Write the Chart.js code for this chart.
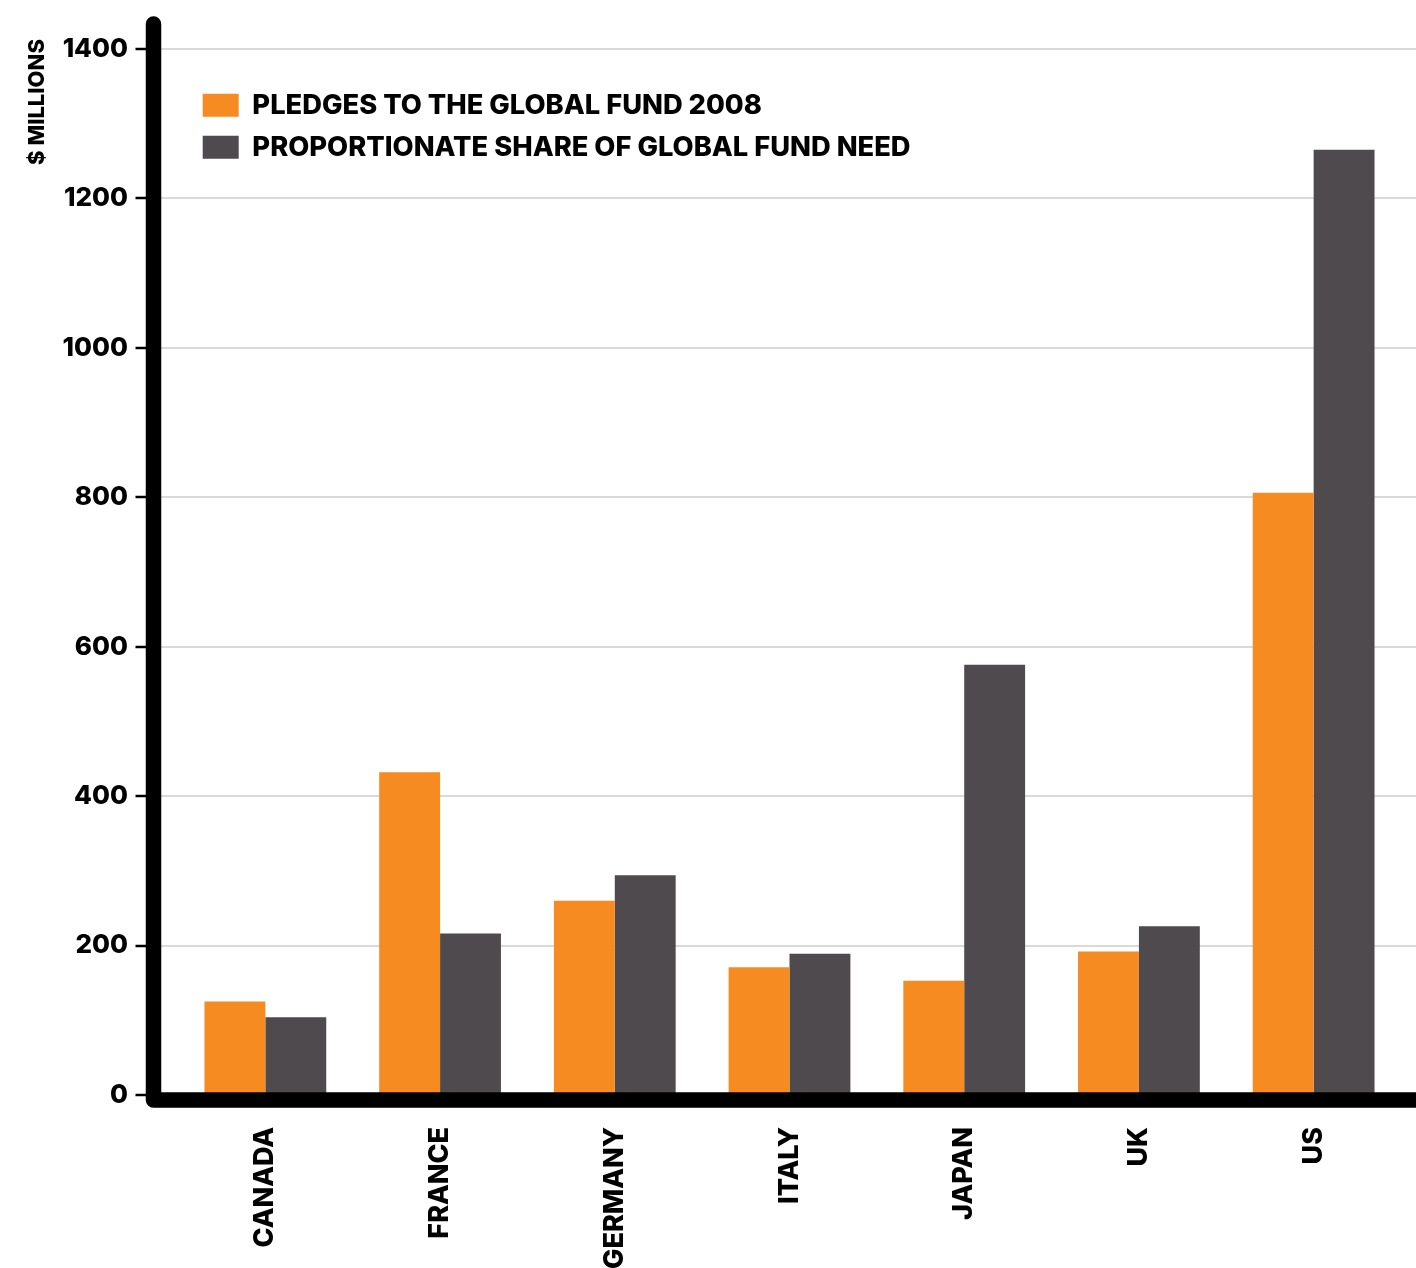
<!DOCTYPE html>
<html>
<head>
<meta charset="utf-8">
<title>Global Fund pledges</title>
<script src="https://cdn.jsdelivr.net/npm/chart.js@4.4.1/dist/chart.umd.min.js"></script>
<style>
  html, body { margin: 0; padding: 0; background: #fff; }
  canvas { display: block; }
</style>
</head>
<body>
<canvas id="fundchart" width="1416" height="1268"></canvas>
<script>
// data
const countries = ['CANADA', 'FRANCE', 'GERMANY', 'ITALY', 'JAPAN', 'UK', 'US'];
const pledges = [125, 432, 260, 171, 153, 192, 806];
const fairShare = [104, 216, 294, 189, 576, 226, 1265];
const yMin = 0;
const yMax = 1400;
const yStep = 200;

const FONT = "Inter, 'Liberation Sans', sans-serif";
const ORANGE = '#F68B21';
const DARK = '#4E4A4D';

// gridlines, tick marks, heavy axis lines and y title
const axesFrame = {
  id: 'axesFrame',
  afterLayout(chart) {
    // legend sits inside the plot, just under the top gridline
    const lg = chart.legend;
    lg.left = chart.chartArea.left + 10;
    lg.right = lg.left + lg.width;
    lg.top = chart.chartArea.top + 28;
    lg.bottom = chart.chartArea.bottom;
  },
  beforeDatasetsDraw(chart) {
    const {ctx, chartArea, scales: {y}} = chart;
    const axisX = chartArea.left - 24.5;
    ctx.save();
    ctx.strokeStyle = '#d9d9d9';
    ctx.lineWidth = 2;
    y.ticks.forEach(t => {
      if (t.value === 0) return;
      const py = Math.round(y.getPixelForValue(t.value));
      ctx.beginPath();
      ctx.moveTo(axisX + 7, py);
      ctx.lineTo(chart.width, py);
      ctx.stroke();
    });
    ctx.restore();
  },
  afterDatasetsDraw(chart) {
    const {ctx, chartArea, scales: {y}} = chart;
    const axisX = chartArea.left - 24.5;
    const baseY = y.getPixelForValue(0) + 5;
    ctx.save();
    // small tick marks
    ctx.strokeStyle = '#000';
    ctx.lineWidth = 2.5;
    y.ticks.forEach(t => {
      const py = Math.round(y.getPixelForValue(t.value));
      ctx.beginPath();
      ctx.moveTo(axisX - 18, py);
      ctx.lineTo(axisX, py);
      ctx.stroke();
    });
    // heavy L-shaped axis
    ctx.lineWidth = 15.5;
    ctx.lineCap = 'round';
    ctx.lineJoin = 'round';
    ctx.beginPath();
    ctx.moveTo(axisX, 24);
    ctx.lineTo(axisX, baseY);
    ctx.lineTo(chart.width + 20, baseY);
    ctx.stroke();
    ctx.restore();
  },
  afterDraw(chart) {
    const {ctx} = chart;
    ctx.save();
    ctx.translate(37, 102);
    ctx.rotate(-Math.PI / 2);
    ctx.fillStyle = '#000';
    ctx.font = '800 22px ' + FONT;
    ctx.textAlign = 'center';
    ctx.textBaseline = 'middle';
    ctx.fillText('$ MILLIONS', 0, 0);
    ctx.restore();
  }
};

const data = {
  labels: countries,
  datasets: [{
      label: 'PLEDGES TO THE GLOBAL FUND 2008',
      data: pledges,
      backgroundColor: ORANGE,
      borderWidth: 0,
      barPercentage: 1.0,
      categoryPercentage: 0.697
    },
    {
      label: 'PROPORTIONATE SHARE OF GLOBAL FUND NEED',
      data: fairShare,
      backgroundColor: DARK,
      borderWidth: 0,
      barPercentage: 1.0,
      categoryPercentage: 0.697
    }
  ]
};

const config = {
  type: 'bar',
  data,
  options: {
    responsive: false,
    animation: false,
    layout: {
      padding: { top: 49, right: 15, bottom: 0, left: 0 }
    },
    scales: {
      x: {
        grid: { display: false, drawTicks: false },
        border: { display: false },
        ticks: {
          color: '#000',
          font: { family: FONT, size: 27, weight: '800' },
          minRotation: 90,
          maxRotation: 90,
          padding: 32,
          autoSkip: false
        },
        afterFit(scale) {
          scale.height = 173;
        }
      },
      y: {
        min: yMin,
        max: yMax,
        grid: { display: false, drawTicks: false },
        border: { display: false },
        ticks: {
          stepSize: yStep,
          color: '#000',
          font: { family: FONT, size: 26, weight: '800' },
          padding: 50,
          callback: (val) => String(val)
        },
        afterFit(scale) {
          scale.width = 178;
          // the wide label gap should not push the plot down
          scale.paddingTop = 0;
          scale.paddingBottom = 0;
        }
      }
    },
    plugins: {
      title: { display: false },
      tooltip: { enabled: false },
      legend: {
        position: 'chartArea',
        align: 'start',
        labels: {
          color: '#000',
          font: { family: FONT, size: 27.3, weight: '800' },
          boxWidth: 36,
          boxHeight: 23,
          padding: 14.7
        }
      }
    }
  },
  plugins: [axesFrame]
};

const fundchart = new Chart(
  document.getElementById('fundchart'),
  config
);
</script>
</body>
</html>
